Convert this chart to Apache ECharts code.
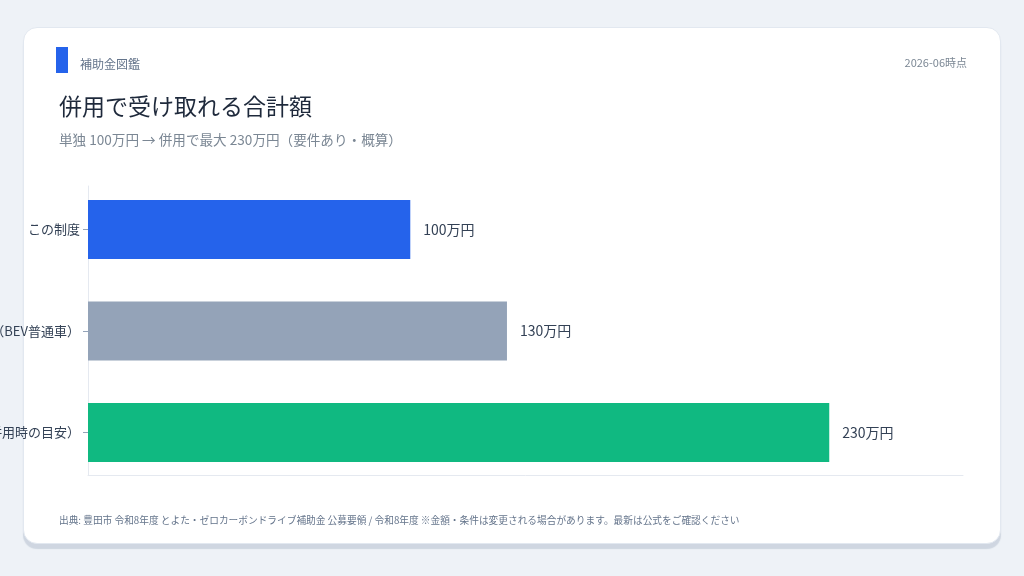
<!DOCTYPE html>
<html>
<head>
<meta charset="utf-8">
<script src="https://cdn.jsdelivr.net/npm/echarts@6/dist/echarts.min.js"></script>
<style>
  html, body { margin: 0; padding: 0; width: 1024px; height: 576px; background: #eef2f7; overflow: hidden; }
  .card {
    position: absolute; left: 23px; top: 27px; width: 976px; height: 515px;
    background: #fff; border: 1px solid #e2e8f0; border-radius: 14px;
    box-shadow: 0 5px 1px rgba(148, 163, 184, 0.35);
  }
  #chart { position: absolute; left: 0; top: 0; width: 1024px; height: 576px; }
</style>
</head>
<body>
<div class="card"></div>
<div id="chart"></div>
<script>
// データ
const categories = ['この制度', '国のCEV補助金（BEV普通車）', '合計（併用時の目安）'];
const amounts = [100, 130, 230];
const barColors = ['#2563eb', '#94a3b8', '#10b981'];

const FONT = '"Noto Sans CJK JP", "Noto Sans", sans-serif';

const myChart = echarts.init(document.getElementById('chart'));

let option = {
  backgroundColor: 'transparent',
  animation: false,
  textStyle: { fontFamily: FONT },
  graphic: [
    { type: 'rect', shape: { x: 56, y: 47, width: 12, height: 26 }, style: { fill: '#2563eb' } },
    { type: 'text', x: 80, y: 64, style: { text: '補助金図鑑', font: '12px ' + FONT, fill: '#64748b', textVerticalAlign: 'middle' } },
    { type: 'text', x: 967, y: 63, style: { text: '2026-06時点', font: '11px ' + FONT, fill: '#7b8794', textAlign: 'right', textVerticalAlign: 'middle' } },
    { type: 'text', x: 59, y: 106, style: { text: '併用で受け取れる合計額', font: '23px ' + FONT, fill: '#1e293b', textVerticalAlign: 'middle' } },
    { type: 'text', x: 59, y: 140, style: { text: '単独 100万円 → 併用で最大 230万円（要件あり・概算）', font: '13.6px ' + FONT, fill: '#7b8794', textVerticalAlign: 'middle' } },
    { type: 'text', x: 59, y: 520, style: { text: '出典: 豊田市 令和8年度 とよた・ゼロカーボンドライブ補助金 公募要領 / 令和8年度 ※金額・条件は変更される場合があります。最新は公式をご確認ください', font: '9.7px ' + FONT, fill: '#64748b', textVerticalAlign: 'middle' } }
  ],
  grid: [
    // 棒の描画用
    { left: 88, right: 61, top: 178.75, height: 304.5, outerBoundsMode: 'none', containLabel: false },
    // 軸線用
    { left: 88, right: 61, top: 186, height: 289, outerBoundsMode: 'none', containLabel: false }
  ],
  xAxis: [
    { gridIndex: 0, type: 'value', min: 0, max: 271.5, show: false },
    {
      gridIndex: 1, type: 'value', min: 0, max: 1,
      axisLine: { show: true, lineStyle: { color: '#e5e9f0', width: 1 } },
      axisTick: { show: false }, axisLabel: { show: false }, splitLine: { show: false }
    }
  ],
  yAxis: [
    {
      gridIndex: 0, type: 'category', data: categories, inverse: true,
      axisLine: { show: false },
      axisTick: { show: true, alignWithLabel: true, length: 5, lineStyle: { color: '#94a3b8' } },
      axisLabel: { fontSize: 13, color: '#334155', margin: 8, fontFamily: FONT }
    },
    {
      gridIndex: 1, type: 'value', min: 0, max: 1,
      axisLine: { show: true, lineStyle: { color: '#e5e9f0', width: 1 } },
      axisTick: { show: false }, axisLabel: { show: false }, splitLine: { show: false }
    }
  ],
  series: [
    {
      type: 'bar',
      xAxisIndex: 0,
      yAxisIndex: 0,
      barWidth: 59,
      data: amounts.map((v, i) => ({ value: v, itemStyle: { color: barColors[i] } })),
      label: {
        show: true,
        position: 'right',
        distance: 13,
        formatter: '{c}万円',
        fontSize: 14,
        color: '#334155',
        fontFamily: FONT
      }
    }
  ]
};
myChart.setOption(option);
</script>
</body>
</html>
